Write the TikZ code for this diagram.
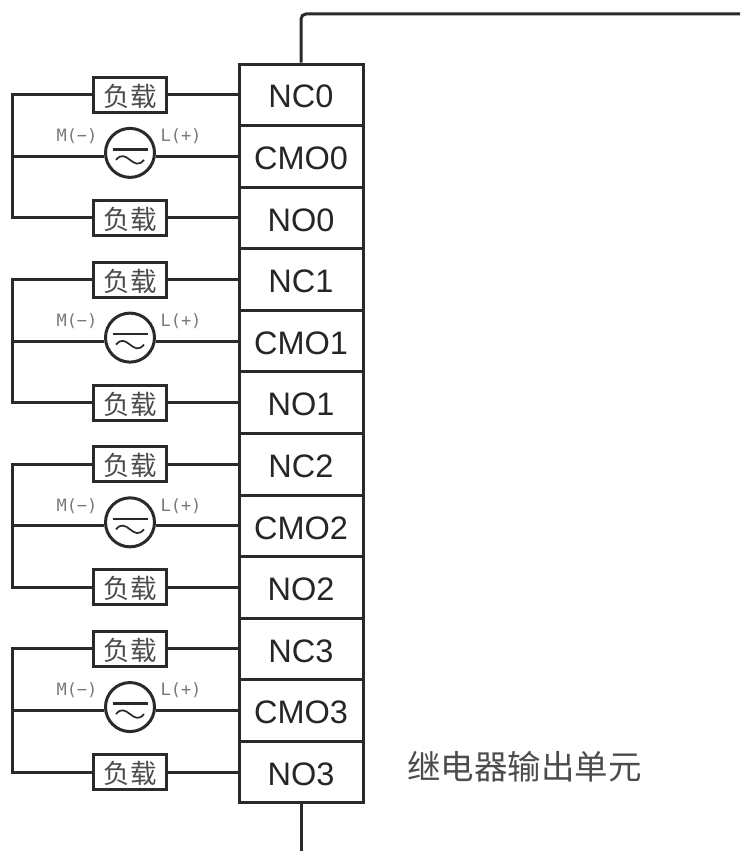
\documentclass[tikz,border=0pt]{standalone}
\usepackage{fontspec}
\setmainfont{Liberation Sans}
\newfontfamily\cjk{Noto Sans CJK SC}
\newfontfamily\monof{DejaVu Sans Mono}
\definecolor{ink}{HTML}{2A2A2A}
\definecolor{soft}{HTML}{787878}
\newcommand{\lowertext}[2]{\raisebox{-#1}[\height][\depth]{#2}}
\tikzset{
  wire/.style={draw=ink,line width=3pt,line join=miter},
  cellbox/.style={draw=ink,line width=3pt,minimum width=124pt,minimum height=61.58pt,inner sep=0pt,text=black!85,font=\fontsize{32.5}{32.5}\selectfont},
  loadbox/.style={draw=ink,line width=3pt,fill=white,minimum width=73pt,minimum height=35pt,inner sep=0pt,text=black!70,font=\fontsize{26.5}{26.5}\selectfont\cjk},
  srcnode/.style={circle,draw=ink,line width=3pt,minimum size=49pt,inner sep=0pt},
  polar/.style={text=soft,inner sep=0pt,font=\fontsize{17}{17}\selectfont\monof},
}
\begin{document}
\begin{tikzpicture}[x=1pt,y=-1pt]
\useasboundingbox (0,0) rectangle (740,851);
\foreach \g in {0,1,2,3}{
  \pgfmathsetmacro{\ya}{94.8+184.73*\g}
  \pgfmathsetmacro{\yb}{\ya+61.58}
  \pgfmathsetmacro{\yc}{\ya+123.16}
  % terminal cells
  \node[cellbox] (nc\g) at (301,\ya) {\lowertext{2pt}{NC\g}};
  \node[cellbox] (cmo\g) at (301,\yb) {\lowertext{2pt}{CMO\g}};
  \node[cellbox] (no\g) at (301,\yc) {\lowertext{2pt}{NO\g}};
  % loads and source
  \node[loadbox] (la\g) at (130,\ya) {\lowertext{1.5pt}{负载}};
  \node[loadbox] (lb\g) at (130,\yc) {\lowertext{1.5pt}{负载}};
  \node[srcnode] (src\g) at (130,\yb-3.5) {};
  \coordinate (busa\g) at (12,\ya);
  \coordinate (busb\g) at (12,\yb);
  \coordinate (busc\g) at (12,\yc);
  % connectors
  \draw[wire] (nc\g.west) -- (la\g.east);
  \draw[wire] (no\g.west) -- (lb\g.east);
  \draw[wire] (cmo\g.west) -- (src\g.352 |- cmo\g.west);
  \draw[wire,line cap=rect] (la\g.west) -- (busa\g) -- (busc\g) -- (lb\g.west);
  \draw[wire] (busb\g) -- (src\g.188 |- busb\g);
  % AC symbol
  \draw[ink,line width=2.6pt] ([xshift=-17.5pt,yshift=3.5pt]src\g.center) -- ([xshift=17.5pt,yshift=3.5pt]src\g.center);
  \draw[ink,line width=1.7pt] ([xshift=-14pt,yshift=-7pt]src\g.center) .. controls +(5,-6) and +(-5,-4) .. ([yshift=-7pt]src\g.center) .. controls +(5,4) and +(-5,6) .. ([xshift=14pt,yshift=-7pt]src\g.center);
  % polarity labels
  \node[polar] (m\g) at (77,\yb-20) {M(−)};
  \node[polar] (l\g) at (181,\yb-20) {L(+)};
}
\coordinate (topcorner) at (301,14);
\coordinate (topend) at (740,14);
\coordinate (botend) at (301,851);
\draw[wire,rounded corners=5pt] (nc0.north) -- (topcorner) -- (topend);
\draw[wire] (no3.south) -- (botend);
\node[inner sep=0pt,text=black!70,font=\fontsize{33.5}{33.5}\selectfont\cjk] (title) at (524.5,767) {继电器输出单元};
\end{tikzpicture}
\end{document}
